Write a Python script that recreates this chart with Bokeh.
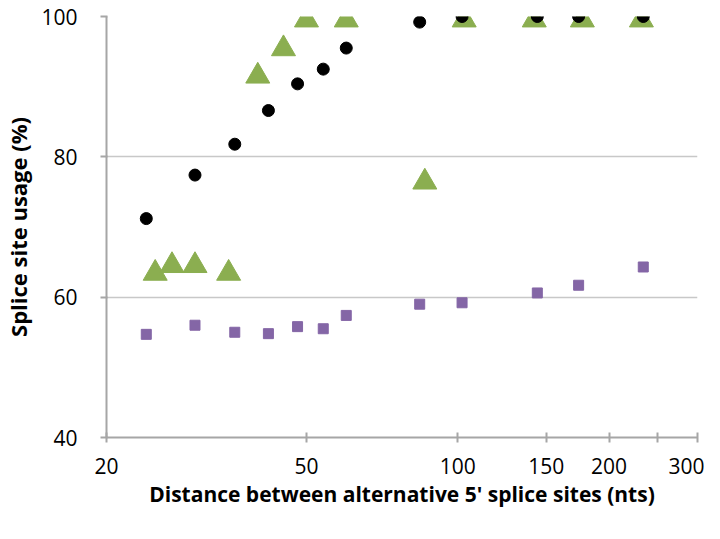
from bokeh.plotting import figure
from bokeh.models import ColumnDataSource, FixedTicker, Range1d
from bokeh.transform import dodge
from bokeh.embed import file_html
from bokeh.resources import INLINE

# --- data ---
circle_x = [24, 30, 36, 42, 48, 54, 60, 84, 102, 144, 174, 234]
circle_y = [71.2, 77.4, 81.8, 86.6, 90.4, 92.5, 95.5, 99.2, 100, 100, 100, 100]

triangle_x = [25, 27, 30, 35, 40, 45, 50, 60, 86, 103, 142, 177, 232]
triangle_y = [63.9, 65.0, 65.0, 63.9, 92.0, 95.9, 100, 100, 76.9, 100, 100, 100, 100]

square_x = [24, 30, 36, 42, 48, 54, 60, 84, 102, 144, 174, 234]
square_y = [54.7, 56.0, 55.0, 54.8, 55.8, 55.5, 57.4, 59.0, 59.2, 60.6, 61.7, 64.3]

x_ticks = [20, 50, 100, 150, 200, 250, 300]
x_tick_labels = {20: "20", 50: "50", 100: "100", 150: "150", 200: "200", 250: "", 300: "300"}
y_ticks = [40, 60, 80, 100]

x_title = "Distance between alternative 5' splice sites (nts)"
y_title = "Splice site usage (%)"

FONT = "Open Sans"
AXIS_COLOR = "#a6a6a6"
GRID_COLOR = "#c8c8c8"

p = figure(width=704, height=523, x_axis_type="log",
           x_range=Range1d(20, 300), y_range=Range1d(40, 100),
           output_backend="svg", toolbar_location=None,
           min_border_left=102, min_border_right=7, min_border_top=16, min_border_bottom=86)
p.outline_line_color = None
p.background_fill_color = "white"

# grid
p.xgrid.visible = False
p.ygrid.ticker = FixedTicker(ticks=y_ticks)
p.ygrid.grid_line_color = GRID_COLOR
p.ygrid.grid_line_width = 1.5

# x axis
xa = p.xaxis[0]
xa.ticker = FixedTicker(ticks=x_ticks, minor_ticks=[])
xa.major_label_overrides = x_tick_labels
xa.axis_line_color = AXIS_COLOR
xa.axis_line_width = 2
xa.major_tick_line_color = AXIS_COLOR
xa.major_tick_line_width = 2
xa.major_tick_in = 5
xa.major_tick_out = 5
xa.minor_tick_line_color = None
xa.major_label_standoff = 15
xa.major_label_text_font = FONT
xa.major_label_text_font_size = "21px"
xa.major_label_text_color = "black"
xa.axis_label = x_title
xa.axis_label_text_font = FONT
xa.axis_label_text_font_style = "bold"
xa.axis_label_text_font_size = "21px"
xa.axis_label_text_color = "black"
xa.axis_label_standoff = 3

# y axis
ya = p.yaxis[0]
ya.ticker = FixedTicker(ticks=y_ticks, minor_ticks=[])
ya.axis_line_color = AXIS_COLOR
ya.axis_line_width = 2
ya.major_tick_line_color = AXIS_COLOR
ya.major_tick_line_width = 2
ya.major_tick_in = 1
ya.major_tick_out = 6
ya.minor_tick_line_color = None
ya.major_label_standoff = 23
ya.major_label_text_font = FONT
ya.major_label_text_font_size = "21px"
ya.major_label_text_color = "black"
ya.axis_label = y_title
ya.axis_label_text_font = FONT
ya.axis_label_text_font_style = "bold"
ya.axis_label_text_font_size = "22px"
ya.axis_label_text_color = "black"
ya.axis_label_standoff = 5

src_sq = ColumnDataSource(dict(x=square_x, y=square_y))
src_tr = ColumnDataSource(dict(x=triangle_x, y=triangle_y))
src_ci = ColumnDataSource(dict(x=circle_x, y=circle_y))

p.scatter("x", "y", source=src_sq, marker="square", size=10,
          fill_color="#8466a6", line_color="#8466a6")
# Excel centres a triangle's bounding box on the value; Bokeh centres its centroid
p.scatter("x", dodge("y", -0.5, range=p.y_range), source=src_tr, marker="triangle", size=24,
          fill_color="#8bae50", line_color="#8bae50")
p.scatter("x", "y", source=src_ci, marker="circle", size=12,
          fill_color="black", line_color="black")

open("out.html", "w").write(file_html(p, INLINE))
